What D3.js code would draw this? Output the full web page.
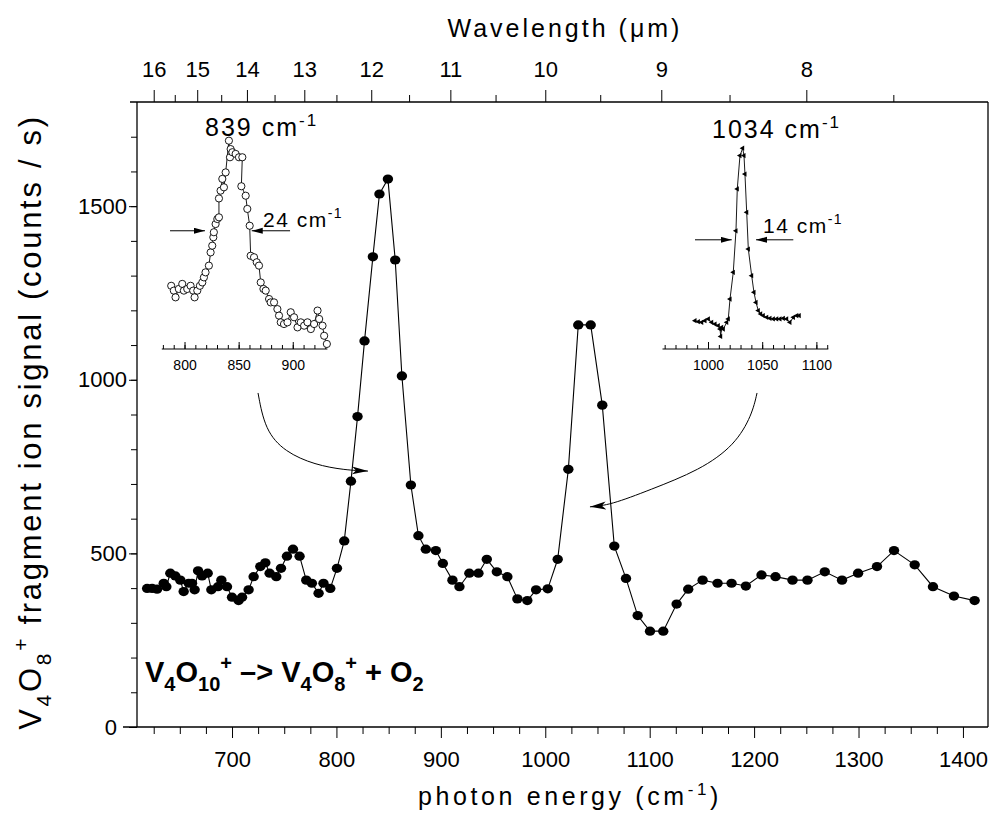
<!DOCTYPE html>
<html>
<head>
<meta charset="utf-8">
<script src="https://cdn.jsdelivr.net/npm/d3@7"></script>
<style>
  body { margin: 0; background: #fff; }
  text { font-family: "Liberation Sans", Arial, sans-serif; fill: #000; }
</style>
</head>
<body>
<svg id="chart" width="991" height="814"></svg>
<script>
// main spectrum: photon energy (cm-1) vs fragment signal (counts / s)
const energy = [618.7,623.5,628.2,634.6,637.1,640.9,645.7,650.5,653.7,658.5,
  661.7,664.2,667.5,671.3,676.7,680.2,686.6,689.8,695.2,700,
  706.3,709.6,715.9,720.7,727.1,731.9,736,742.4,746.9,752.6,
  758.4,764.7,771.1,776.5,782.9,787.6,794.1,800.5,807.5,813.9,
  820.2,826.9,834.9,841.2,849.3,856.3,862.7,871.3,878.5,885.6,
  895.2,901.9,911.1,917.8,927.3,936,944,953.6,963.7,973.3,
  982.8,991.2,1002.4,1011.9,1022.1,1031.6,1043.5,1054.6,1066.1,1077.3,
  1088.5,1100.3,1113,1125.8,1136.9,1150.7,1165,1178.4,1192.1,1207.1,
  1220.5,1236.8,1251.1,1267.7,1284.2,1299.6,1317.7,1334,1353.8,1371.3,
  1391.4,1411.2];
const signal = [399,399,397,414,404,443,435,423,390,414,
  414,395,450,435,443,395,404,423,404,374,
  364,374,395,433,462,473,443,433,457,492,
  512,492,423,414,385,414,399,457,536,708,
  894,1112,1354,1535,1578,1345,1011,697,551,512,
  508,471,423,404,443,443,483,447,433,369,
  364,395,398,483,742,1158,1158,927,521,428,
  321,276,276,354,397,423,414,414,406,438,
  433,423,423,447,423,443,462,508,467,404,
  377,364];

// inset 1 (839 band), relative signal
const inset1Energy = [787.7,790.1,791.7,794.7,797.9,799.4,802.5,805.6,808,809.3,
  811.8,814.2,816.4,817.9,819.4,822.5,824.1,825.6,826.6,827.1,
  828.7,830.3,831.8,831.8,833.3,834.9,836.4,838,841,842,
  842.6,844.2,847.2,850.3,853.4,852.5,856.5,858,860.2,861.1,
  864.2,866.7,868.8,870.4,872.9,875,878.1,879.6,882.7,885.8,
  887.3,888.9,891.9,895.1,898.1,901.2,904.4,907.4,910.5,913.6,
  916.7,919.7,922.9,924.4,927.5,929,931.5];
const inset1Signal = [0.301,0.278,0.246,0.286,0.310,0.278,0.286,0.301,0.278,0.246,
  0.278,0.301,0.317,0.341,0.365,0.397,0.460,0.492,0.532,0.556,
  0.595,0.619,0.627,0.717,0.754,0.810,0.770,0.841,0.992,0.913,
  0.952,0.937,0.929,0.913,0.913,0.775,0.730,0.667,0.587,0.444,
  0.437,0.413,0.397,0.317,0.286,0.278,0.238,0.222,0.222,0.190,
  0.159,0.127,0.119,0.127,0.175,0.151,0.103,0.127,0.111,0.127,
  0.095,0.119,0.183,0.143,0.111,0.063,0.024];

// inset 2 (1034 band), relative signal
const inset2Energy = [988,991.1,994.2,997.2,1000.3,1003.4,1006.5,1009.5,1011.1,1011.7,
  1012.6,1014.1,1017.3,1018.7,1020.3,1023.3,1025.8,1027,1029.5,1032,
  1033.2,1034.1,1035.7,1037.2,1040.3,1042.4,1044.3,1046.4,1048.6,1051,
  1054.2,1057.2,1060.3,1063.4,1066.4,1069.5,1072.6,1075.6,1078.8,1081.9,
  1084.2];
const inset2Signal = [0.135,0.130,0.127,0.135,0.143,0.127,0.119,0.111,0.095,0.060,
  0.103,0.095,0.127,0.143,0.238,0.365,0.563,0.762,0.921,0.956,
  0.921,0.833,0.651,0.476,0.349,0.270,0.222,0.183,0.167,0.159,
  0.151,0.146,0.143,0.143,0.143,0.146,0.143,0.127,0.151,0.159,
  0.159];

const energyTicks = [700,800,900,1000,1100,1200,1300,1400];
const signalTicks = [0,500,1000,1500];
const wavelengthTicks = [16,15,14,13,12,11,10,9,8];
const wavelengthMinor = [15.5,14.5,13.5,12.5,11.5,10.5,9.5,8.5,7.5];
const inset1Ticks = [800,850,900];
const inset2Ticks = [1000,1050,1100];

const svg = d3.select('#chart');
svg.append('rect').attr('width', 991).attr('height', 814).attr('fill', '#fff');

const x = d3.scaleLinear().domain([609, 1424]).range([137, 988]);
const y = d3.scaleLinear().domain([0, 1800]).range([727, 102]);
const plain = d3.format('d');

// writes text with sub/superscripts, parts = [[str, 0 normal | 1 sub | 2 sup]]
function rich(t, parts, size) {
  let shift = 0;
  parts.forEach(([s, k]) => {
    const target = k === 1 ? size * 0.32 : k === 2 ? -size * 0.42 : 0;
    t.append('tspan')
      .attr('dy', target - shift)
      .attr('font-size', k ? Math.round(size * 0.68) : size)
      .text(s);
    shift = target;
  });
  return t;
}

const defs = svg.append('defs');
defs.append('marker').attr('id', 'bigHead')
  .attr('markerUnits', 'userSpaceOnUse')
  .attr('markerWidth', 18).attr('markerHeight', 10)
  .attr('refX', 16).attr('refY', 4).attr('orient', 'auto')
  .append('path').attr('d', 'M0,0L16,4L0,8L4,4Z').attr('fill', '#000');
defs.append('marker').attr('id', 'smallHead')
  .attr('markerUnits', 'userSpaceOnUse')
  .attr('markerWidth', 12).attr('markerHeight', 8)
  .attr('refX', 11).attr('refY', 3).attr('orient', 'auto')
  .append('path').attr('d', 'M0,0L11,3L0,6Z').attr('fill', '#000');

// axes
const bottomMinor = d3.range(625, 1424, 25).filter(d => d % 100 !== 0);
svg.append('g').attr('transform', 'translate(0,727)')
  .call(d3.axisBottom(x).tickValues(bottomMinor).tickSize(7).tickFormat(''))
  .call(g => g.select('.domain').remove());
svg.append('g').attr('transform', 'translate(0,727)')
  .call(d3.axisBottom(x).tickValues(energyTicks).tickSize(11).tickPadding(13).tickFormat(plain))
  .call(g => g.select('.domain').remove())
  .selectAll('text').attr('font-size', 22).attr('font-family', null);

svg.append('g').attr('transform', 'translate(137,0)')
  .call(d3.axisLeft(y).tickValues(d3.range(100, 1800, 100)).tickSize(6).tickFormat(''))
  .call(g => g.select('.domain').remove());
svg.append('g').attr('transform', 'translate(137,0)')
  .call(d3.axisLeft(y).tickValues(signalTicks).tickSize(8).tickPadding(2).tickFormat(plain))
  .call(g => g.select('.domain').remove())
  .selectAll('text').attr('font-size', 22).attr('font-family', null)
  .attr('dx', d => d === 0 ? -10 : 0);

svg.append('g').attr('transform', 'translate(0,102)')
  .call(d3.axisTop(x).tickValues(wavelengthMinor.map(l => 1e4 / l)).tickSize(7).tickFormat(''))
  .call(g => g.select('.domain').remove());
svg.append('g').attr('transform', 'translate(0,102)')
  .call(d3.axisTop(x).tickValues(wavelengthTicks.map(l => 1e4 / l)).tickSize(12).tickPadding(13)
    .tickFormat((d, i) => wavelengthTicks[i]))
  .call(g => g.select('.domain').remove())
  .selectAll('text').attr('font-size', 22).attr('font-family', null);

svg.selectAll('.tick line').attr('stroke', '#000');

// frame
const frame = svg.append('g').attr('stroke', '#000').attr('stroke-width', 1.3).attr('fill', 'none');
frame.append('line').attr('x1', 123).attr('x2', 988).attr('y1', 727).attr('y2', 727);
frame.append('line').attr('x1', 130).attr('x2', 988).attr('y1', 102).attr('y2', 102);
frame.append('line').attr('x1', 137).attr('x2', 137).attr('y1', 102).attr('y2', 727);
frame.append('line').attr('x1', 988).attr('x2', 988).attr('y1', 102).attr('y2', 727);

// axis titles
rich(svg.append('text').attr('x', 565).attr('y', 37).attr('text-anchor', 'middle')
  .attr('letter-spacing', 3).style('white-space', 'pre'), [['Wavelength (μm)', 0]], 25);
rich(svg.append('text').attr('x', 570).attr('y', 805).attr('text-anchor', 'middle')
  .attr('letter-spacing', 3.6).style('white-space', 'pre'),
  [['photon energy (cm', 0], ['-1', 2], [')', 0]], 25);
rich(svg.append('text').attr('transform', 'translate(41,422) rotate(-90)')
  .attr('text-anchor', 'middle').attr('letter-spacing', 2.7).style('white-space', 'pre'),
  [['V', 0], ['4', 1], ['O', 0], ['8', 1], ['+', 2], [' fragment ion signal (counts / s)', 0]], 31);

// main data
const pts = d3.zip(energy, signal);
svg.append('path').datum(pts)
  .attr('fill', 'none').attr('stroke', '#000').attr('stroke-width', 1.1)
  .attr('d', d3.line().x(d => x(d[0])).y(d => y(d[1])));
svg.append('g').selectAll('ellipse').data(pts).join('ellipse')
  .attr('cx', d => x(d[0])).attr('cy', d => y(d[1]))
  .attr('rx', 5.2).attr('ry', 4.6).attr('fill', '#000');

// reaction label
rich(svg.append('text').attr('x', 145).attr('y', 682).attr('font-weight', 'bold')
  .style('white-space', 'pre'),
  [['V', 0], ['4', 1], ['O', 0], ['10', 1], ['+', 2], [' –> V', 0], ['4', 1], ['O', 0], ['8', 1],
   ['+', 2], [' + O', 0], ['2', 1]], 29);

// insets
const iy = d3.scaleLinear().domain([0, 1]).range([349, 139]);
const ix1 = d3.scaleLinear().domain([779, 932]).range([161.8, 327.4]);
const ix2 = d3.scaleLinear().domain([958, 1111]).range([662.5, 828.3]);

function insetAxis(ix, minor, major) {
  const g = svg.append('g').attr('transform', 'translate(0,349)');
  g.append('line').attr('x1', ix.range()[0]).attr('x2', ix.range()[1])
    .attr('stroke', '#000').attr('stroke-width', 1.2);
  g.append('g').call(d3.axisBottom(ix).tickValues(minor).tickSize(-4).tickFormat(''))
    .call(a => a.select('.domain').remove());
  g.append('g').call(d3.axisBottom(ix).tickValues(major).tickSize(-7).tickPadding(11).tickFormat(plain))
    .call(a => a.select('.domain').remove())
    .selectAll('text').attr('font-size', 14).attr('font-family', null);
  g.selectAll('.tick line').attr('stroke', '#000');
}
insetAxis(ix1, d3.range(780, 931, 10), inset1Ticks);
insetAxis(ix2, d3.range(960, 1111, 10), inset2Ticks);

const p1 = d3.zip(inset1Energy, inset1Signal);
svg.append('path').datum(p1).attr('fill', 'none').attr('stroke', '#000').attr('stroke-width', 0.9)
  .attr('d', d3.line().x(d => ix1(d[0])).y(d => iy(d[1])));
svg.append('g').selectAll('circle').data(p1).join('circle')
  .attr('cx', d => ix1(d[0])).attr('cy', d => iy(d[1])).attr('r', 3.6)
  .attr('fill', '#fff').attr('stroke', '#000').attr('stroke-width', 0.9);

const p2 = d3.zip(inset2Energy, inset2Signal);
svg.append('path').datum(p2).attr('fill', 'none').attr('stroke', '#000').attr('stroke-width', 0.9)
  .attr('d', d3.line().x(d => ix2(d[0])).y(d => iy(d[1])));
svg.append('g').selectAll('path').data(p2).join('path')
  .attr('transform', d => `translate(${ix2(d[0])},${iy(d[1])}) rotate(-90)`)
  .attr('d', d3.symbol(d3.symbolTriangle, 12)).attr('fill', '#000');

// width arrows
const fwhm = [
  { ix: ix1, from: 786.6, to: 818.9, level: 0.563 },
  { ix: ix1, from: 897.5, to: 862.1, level: 0.563 },
  { ix: ix2, from: 988, to: 1021.9, level: 0.52 },
  { ix: ix2, from: 1078.7, to: 1044.3, level: 0.52 }
];
svg.append('g').selectAll('line').data(fwhm).join('line')
  .attr('x1', d => d.ix(d.from)).attr('x2', d => d.ix(d.to))
  .attr('y1', d => iy(d.level)).attr('y2', d => iy(d.level))
  .attr('stroke', '#000').attr('stroke-width', 1).attr('marker-end', 'url(#smallHead)');

rich(svg.append('text').attr('x', 205).attr('y', 136)
  .attr('letter-spacing', 2).style('white-space', 'pre'), [['839 cm', 0], ['-1', 2]], 25);
rich(svg.append('text').attr('x', 712).attr('y', 138)
  .attr('letter-spacing', 2).style('white-space', 'pre'), [['1034 cm', 0], ['-1', 2]], 25);
rich(svg.append('text').attr('x', 263).attr('y', 227).attr('letter-spacing', 1.5)
  .style('white-space', 'pre'), [['24 cm', 0], ['-1', 2]], 21);
rich(svg.append('text').attr('x', 763).attr('y', 233).attr('letter-spacing', 1.5)
  .style('white-space', 'pre'), [['14 cm', 0], ['-1', 2]], 21);

// curved arrows from insets to main bands (data coordinates)
const arrowA = [[724.9, 962], [731.6, 855], [750.7, 792], [779.5, 755], [808.2, 740], [830.2, 737]];
const arrowB = [[1202.8, 962], [1198, 899], [1181.7, 812], [1148.2, 740], [1100.3, 683], [1062, 639], [1042.8, 634]];
const curve = d3.line().x(d => x(d[0])).y(d => y(d[1])).curve(d3.curveBasis);
[arrowA, arrowB].forEach(a => {
  svg.append('path').attr('d', curve(a)).attr('fill', 'none')
    .attr('stroke', '#000').attr('stroke-width', 1).attr('marker-end', 'url(#bigHead)');
});
</script>
</body>
</html>
